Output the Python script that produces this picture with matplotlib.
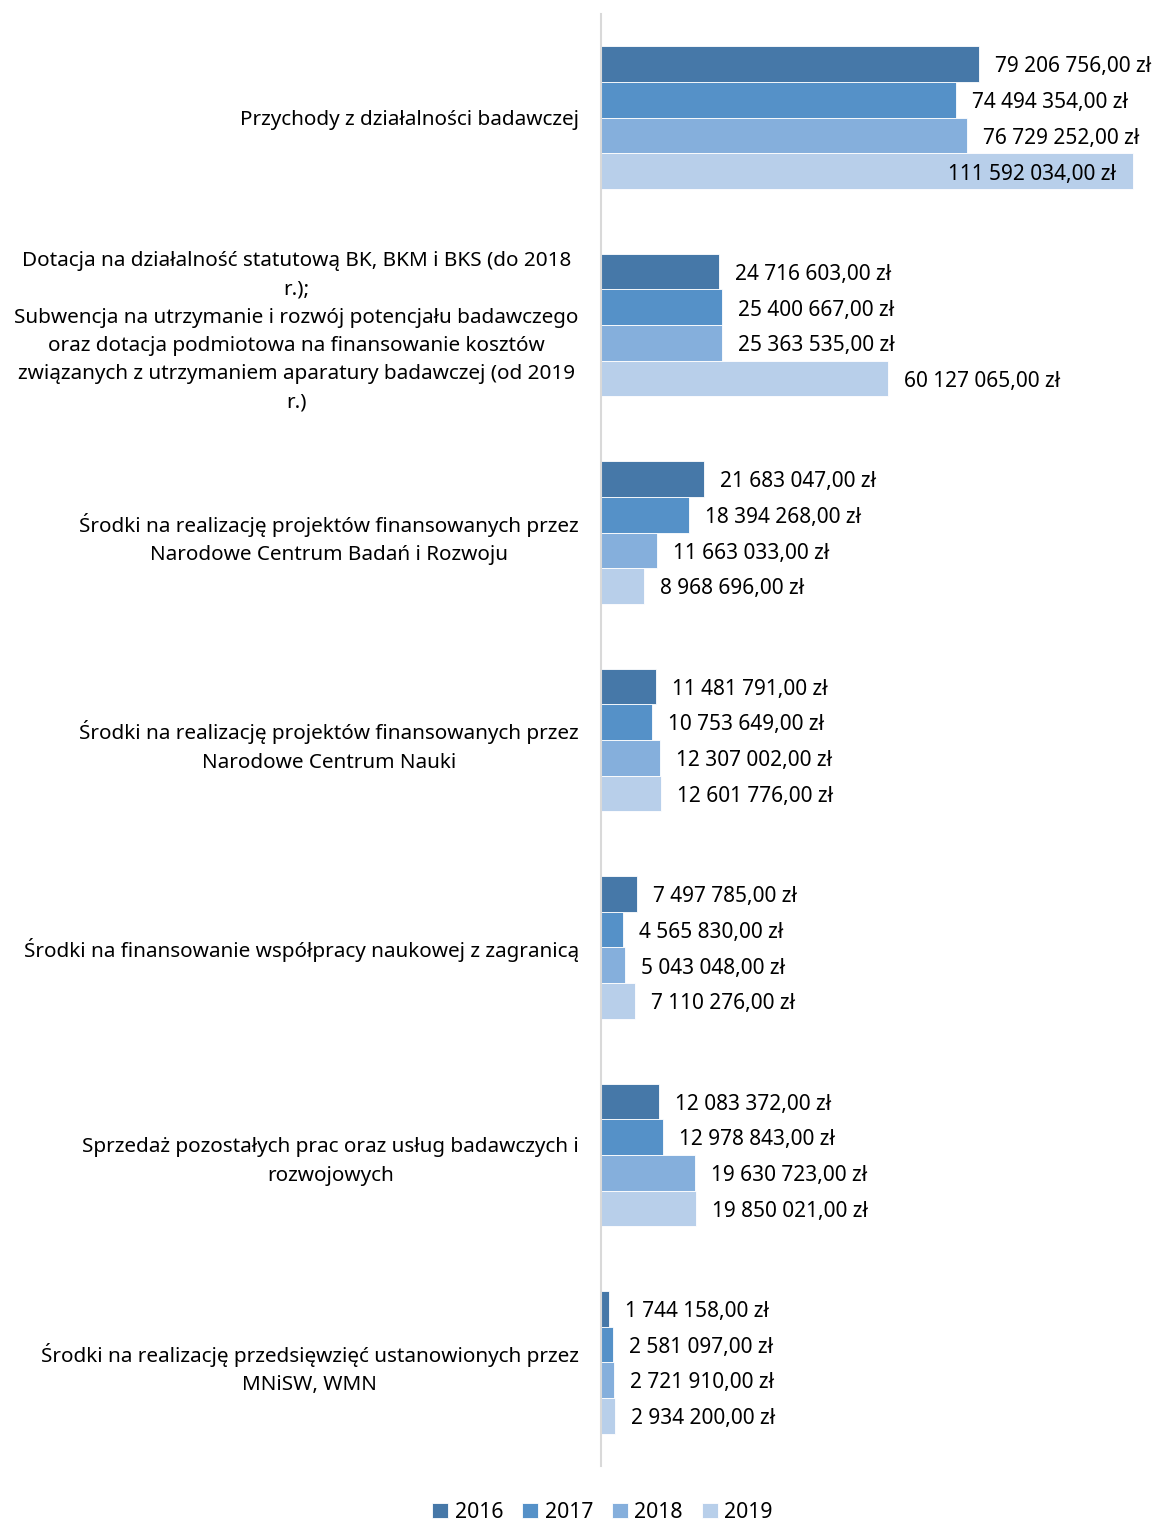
import matplotlib.pyplot as plt
import numpy as np

plt.rcParams['font.family'] = ['Noto Sans', 'DejaVu Sans']

kategorie = [
    "Przychody z działalności badawczej",
    "Dotacja na działalność statutową BK, BKM i BKS (do 2018\nr.);\n"
    "Subwencja na utrzymanie i rozwój potencjału badawczego\n"
    "oraz dotacja podmiotowa na finansowanie kosztów\n"
    "związanych z utrzymaniem aparatury badawczej (od 2019\nr.)",
    "Środki na realizację projektów finansowanych przez\nNarodowe Centrum Badań i Rozwoju",
    "Środki na realizację projektów finansowanych przez\nNarodowe Centrum Nauki",
    "Środki na finansowanie współpracy naukowej z zagranicą",
    "Sprzedaż pozostałych prac oraz usług badawczych i\nrozwojowych",
    "Środki na realizację przedsięwzięć ustanowionych przez\nMNiSW, WMN",
]
lata = ["2016", "2017", "2018", "2019"]

w2016 = [79206756.00, 24716603.00, 21683047.00, 11481791.00, 7497785.00, 12083372.00, 1744158.00]
w2017 = [74494354.00, 25400667.00, 18394268.00, 10753649.00, 4565830.00, 12978843.00, 2581097.00]
w2018 = [76729252.00, 25363535.00, 11663033.00, 12307002.00, 5043048.00, 19630723.00, 2721910.00]
w2019 = [111592034.00, 60127065.00, 8968696.00, 12601776.00, 7110276.00, 19850021.00, 2934200.00]
serie = [w2016, w2017, w2018, w2019]
kolory = ["#4678a8", "#5591c8", "#85afdc", "#b8cfea"]


def fmt(v):
    s = f"{v:,.2f}".replace(",", " ").replace(".", ",")
    return s + " zł"


fig = plt.figure(figsize=(11.59, 15.26), dpi=100)
ax = fig.add_axes([601 / 1159, 60 / 1526, 1 - 601 / 1159, 1452 / 1526])

xmax = 117.05e6
y = np.arange(len(kategorie))
h = 0.172
for j, (vals, kol, rok) in enumerate(zip(serie, kolory, lata)):
    pos = y + (j - 1.5) * h
    ax.barh(pos, vals, height=h, color=kol, edgecolor="white", linewidth=0.6, label=rok)
    for p, v in zip(pos, vals):
        if v > 0.85 * xmax:
            # za długi - etykieta wewnątrz słupka
            ax.annotate(fmt(v), (v, p), xytext=(-12.5, -2), textcoords="offset points",
                        va="center", ha="right", fontsize=15, color="black")
        else:
            ax.annotate(fmt(v), (v, p), xytext=(11.5, -2), textcoords="offset points",
                        va="center", ha="left", fontsize=15, color="black")

ax.set_xlim(0, xmax)
ax.set_ylim(len(kategorie) - 0.5, -0.5)
ax.set_yticks(y)
ax.set_yticklabels(kategorie, fontsize=14.9, linespacing=1.56)
for t in ax.get_yticklabels():
    t.set_multialignment("center")
ax.tick_params(axis="y", length=0, pad=16)
ax.set_xticks([])
for s in ["top", "right", "bottom"]:
    ax.spines[s].set_visible(False)
ax.spines["left"].set_color("#d9d9d9")
ax.spines["left"].set_linewidth(1.5)

fig.legend(loc="lower center", ncol=4, frameon=False, fontsize=15.3,
           handlelength=0.75, handleheight=0.75, handletextpad=0.3,
           columnspacing=0.9, bbox_to_anchor=(0.52, -0.009), borderpad=0.3)

fig.savefig("out.png", dpi=100)
